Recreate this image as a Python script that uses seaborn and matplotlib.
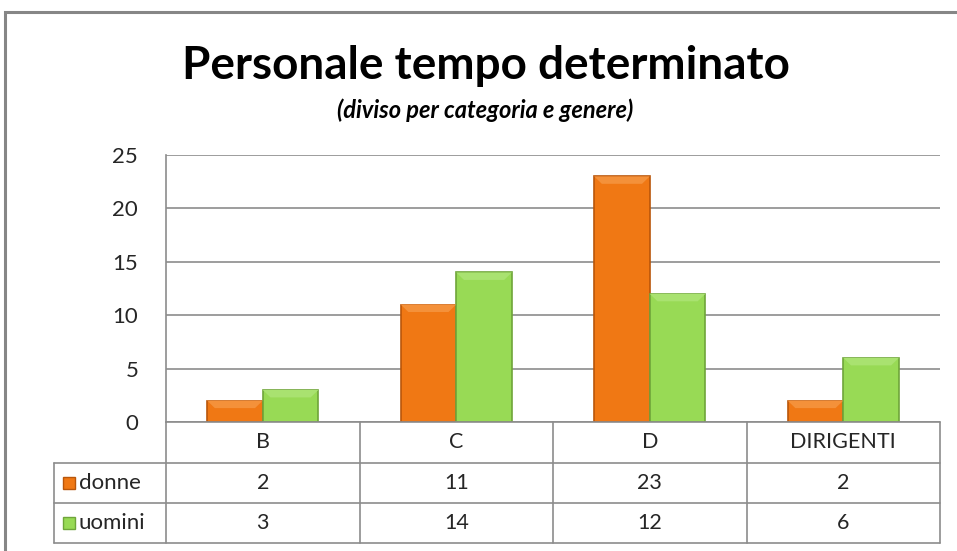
import pandas as pd
import matplotlib.pyplot as plt
import matplotlib.patches as mpatches
import seaborn as sns

# dati
categorie = ['B', 'C', 'D', 'DIRIGENTI']
donne = [2, 11, 23, 2]
uomini = [3, 14, 12, 6]
serie = ['donne', 'uomini']
colori = {'donne': '#F07814', 'uomini': '#98DA55'}
chiari = {'donne': '#F4913A', 'uomini': '#A9E270'}
bordi = {'donne': '#B9560A', 'uomini': '#6FA53A'}
y_ticks = [0, 5, 10, 15, 20, 25]

df = pd.DataFrame({
    'categoria': categorie * 2,
    'genere': ['donne'] * len(categorie) + ['uomini'] * len(categorie),
    'valore': donne + uomini,
})

sns.set_style("white")
plt.rcParams['font.family'] = ['Lato', 'DejaVu Sans']

W, H = 957, 551
fig = plt.figure(figsize=(W / 100, H / 100), dpi=100)
ax = fig.add_axes([166 / W, 1 - 422 / H, (940 - 166) / W, (422 - 155) / H])

sns.barplot(data=df, x='categoria', y='valore', hue='genere', order=categorie,
            hue_order=serie, palette=colori, width=0.575, gap=0,
            saturation=1, ax=ax, legend=False)

# effetto "smussato" stile Excel: fascia chiara in cima a ogni barra
dy = 0.7    # ~7 px in unita' dati
dx = 0.04   # ~8 px in unita' dati
for cont, g in zip(ax.containers, serie):
    for bar in cont:
        bar.set_edgecolor(bordi[g])
        bar.set_linewidth(1.2)
        bar.set_zorder(3)
        x0, w, h = bar.get_x(), bar.get_width(), bar.get_height()
        top = mpatches.Polygon([(x0, h), (x0 + w, h), (x0 + w - dx, h - dy), (x0 + dx, h - dy)],
                               closed=True, facecolor=chiari[g], edgecolor='none', zorder=4)
        ax.add_patch(top)

ax.set_ylim(0, 25)
ax.set_xlim(-0.5, len(categorie) - 0.5)
ax.set_yticks(y_ticks)
ax.set_yticklabels([str(v) for v in y_ticks], fontsize=16, color='#262626')
ax.tick_params(axis='y', length=0, pad=20)
ax.set_xticks([])
ax.set_xlabel('')
ax.set_ylabel('')
ax.grid(axis='y', color='#8C8C8C', linewidth=1.2, zorder=0)
ax.set_axisbelow(True)
for s in ['top', 'right', 'bottom']:
    ax.spines[s].set_visible(False)
ax.spines['left'].set_color('#8C8C8C')
ax.spines['left'].set_linewidth(1.2)

# tabella dati sotto il grafico (coordinate in pixel della figura)
def fx(px):
    return px / W

def fy(py):
    return 1 - py / H

lc = '#8C8C8C'
x_edges = [166 + i * (940 - 166) / len(categorie) for i in range(len(categorie) + 1)]
rows = [422, 463, 503, 543]
tab_left = 54
fig.add_artist(plt.Line2D([fx(166), fx(940)], [fy(422), fy(422)], color=lc, lw=1.2))
for r in rows[1:]:
    fig.add_artist(plt.Line2D([fx(tab_left), fx(940)], [fy(r), fy(r)], color=lc, lw=1.2))
for xe in x_edges:
    fig.add_artist(plt.Line2D([fx(xe), fx(xe)], [fy(422), fy(543)], color=lc, lw=1.2))
fig.add_artist(plt.Line2D([fx(tab_left), fx(tab_left)], [fy(463), fy(543)], color=lc, lw=1.2))

txt = dict(fontsize=15.5, color='#262626', ha='center', va='center')
for i, cat in enumerate(categorie):
    xc = fx((x_edges[i] + x_edges[i + 1]) / 2)
    fig.text(xc, fy((rows[0] + rows[1]) / 2), cat, **txt)
    fig.text(xc, fy((rows[1] + rows[2]) / 2), str(donne[i]), **txt)
    fig.text(xc, fy((rows[2] + rows[3]) / 2), str(uomini[i]), **txt)

for j, g in enumerate(serie):
    yc = (rows[j + 1] + rows[j + 2]) / 2
    fig.add_artist(mpatches.Rectangle((fx(63), fy(yc + 6)), 12 / W, 12 / H,
                                      facecolor=colori[g], edgecolor=bordi[g], lw=1))
    fig.text(fx(79), fy(yc), g, fontsize=16, color='#262626', ha='left', va='center')

# titolo e sottotitolo
fig.text(fx(486), fy(66), 'Personale tempo determinato', fontsize=33, fontweight='bold',
         ha='center', va='center', color='black')
fig.text(fx(485), fy(110), '(diviso per categoria e genere)', fontsize=17, fontweight='bold',
         fontstyle='italic', ha='center', va='center', color='black')

# cornice del grafico
fig.add_artist(mpatches.Rectangle((fx(5), fy(600)), 1.2, (600 - 12) / H,
                                  facecolor='none', edgecolor='#868686', lw=2.2))

fig.savefig('out.png', dpi=100)
